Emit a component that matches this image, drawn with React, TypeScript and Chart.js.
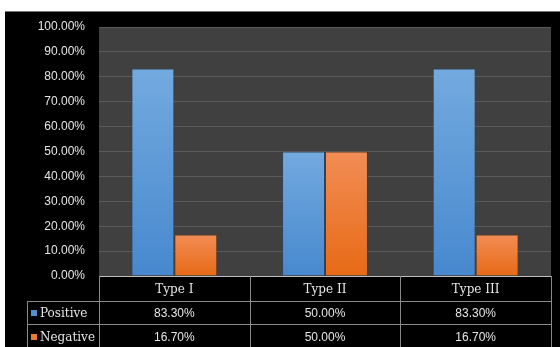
import React, { useEffect, useRef } from "react";
import { Chart, registerables } from "chart.js";

Chart.register(...registerables);

const categories = ["Type I", "Type II", "Type III"];
const seriesNames = ["Positive", "Negative"];
const positiveValues = [83.3, 50.0, 83.3];
const negativeValues = [16.7, 50.0, 16.7];
const tableValues = [positiveValues, negativeValues];
const seriesGradients = [
  ["#73aadf", "#4788ce"],
  ["#f28d55", "#e76a16"],
];
const legendColors = ["#4f8fd2", "#ec7a2e"];

const TEXT = "#e6e6e6";
const LINE = "#8a8a8a";
const SERIF = "'DejaVu Serif', serif";
const SANS = "'Liberation Sans', Arial, sans-serif";

const plotBg = {
  id: "plotBg",
  beforeDraw(chart: any) {
    const { ctx, chartArea } = chart;
    ctx.save();
    ctx.fillStyle = "#404040";
    ctx.fillRect(chartArea.left, chartArea.top, chartArea.right - chartArea.left, chartArea.bottom - chartArea.top);
    ctx.restore();
  },
};

const dataTable = {
  id: "dataTable",
  afterDraw(chart: any) {
    const { ctx, chartArea } = chart;
    const left = chartArea.left;
    const right = chartArea.right;
    const top = chartArea.bottom;
    const colW = (right - left) / categories.length;
    const rowH = [25, 23, 25];
    const rowY = [top, top + rowH[0], top + rowH[0] + rowH[1], top + rowH[0] + rowH[1] + rowH[2]];
    const labelLeft = 22;
    ctx.save();
    ctx.lineWidth = 1;
    const h = (x1: number, x2: number, y: number) => {
      ctx.beginPath();
      ctx.moveTo(x1, Math.round(y) + 0.5);
      ctx.lineTo(x2, Math.round(y) + 0.5);
      ctx.stroke();
    };
    const v = (x: number, y1: number, y2: number) => {
      ctx.beginPath();
      ctx.moveTo(Math.round(x) + 0.5, y1);
      ctx.lineTo(Math.round(x) + 0.5, y2);
      ctx.stroke();
    };
    ctx.strokeStyle = "#bdbdbd";
    h(left, right, rowY[0]);
    ctx.strokeStyle = LINE;
    h(labelLeft, right, rowY[1]);
    h(labelLeft, right, rowY[2]);
    h(labelLeft, right, rowY[3] - 1);
    for (let i = 0; i <= categories.length; i++) {
      v(left + i * colW, rowY[0], rowY[3]);
    }
    v(labelLeft, rowY[1], rowY[3]);

    ctx.fillStyle = TEXT;
    ctx.textAlign = "center";
    ctx.textBaseline = "middle";
    ctx.font = `12px ${SERIF}`;
    categories.forEach((c, i) => {
      ctx.fillText(c, chart.scales.x.getPixelForValue(i), (rowY[0] + rowY[1]) / 2 + 1);
    });
    ctx.font = `12px ${SANS}`;
    tableValues.forEach((vals, r) => {
      vals.forEach((val, i) => {
        ctx.fillText(val.toFixed(2) + "%", chart.scales.x.getPixelForValue(i), (rowY[r + 1] + rowY[r + 2]) / 2 + 1);
      });
    });
    ctx.textAlign = "left";
    ctx.font = `12px ${SERIF}`;
    seriesNames.forEach((n, r) => {
      const cy = (rowY[r + 1] + rowY[r + 2]) / 2;
      ctx.fillStyle = legendColors[r];
      ctx.fillRect(26, Math.round(cy) - 3, 6, 6);
      ctx.fillStyle = TEXT;
      ctx.fillText(n, 35, cy + 1);
    });
    ctx.restore();
  },
};

function gradientFor(seriesIndex: number) {
  return (context: any) => {
    const chart = context.chart;
    const yScale = chart.scales?.y;
    const fallback = seriesGradients[seriesIndex][1];
    if (!yScale || typeof context.raw !== "number") return fallback;
    const y0 = yScale.getPixelForValue(context.raw);
    const y1 = yScale.getPixelForValue(0);
    if (!isFinite(y0) || !isFinite(y1) || y1 - y0 < 1) return fallback;
    const g = chart.ctx.createLinearGradient(0, y0, 0, y1);
    g.addColorStop(0, seriesGradients[seriesIndex][0]);
    g.addColorStop(1, seriesGradients[seriesIndex][1]);
    return g;
  };
}

export default function App() {
  const ref = useRef<HTMLCanvasElement | null>(null);
  useEffect(() => {
    if (!ref.current) return;
    const chart = new Chart(ref.current, {
      type: "bar",
      data: {
        labels: categories,
        datasets: [
          {
            label: seriesNames[0],
            data: positiveValues,
            backgroundColor: gradientFor(0),
            borderColor: "rgba(40,70,110,0.6)",
            borderWidth: 1,
            barPercentage: 1,
            categoryPercentage: 0.57,
          },
          {
            label: seriesNames[1],
            data: negativeValues,
            backgroundColor: gradientFor(1),
            borderColor: "rgba(110,50,10,0.6)",
            borderWidth: 1,
            barPercentage: 1,
            categoryPercentage: 0.57,
          },
        ],
      },
      options: {
        animation: false,
        responsive: false,
        maintainAspectRatio: false,
        devicePixelRatio: 1,
        layout: { padding: { left: 0, top: 15, right: 9, bottom: 71 } },
        plugins: { legend: { display: false }, tooltip: { enabled: false } },
        scales: {
          x: { display: false },
          y: {
            min: 0,
            max: 100,
            border: { display: false },
            grid: { color: "#5a5a5a", drawTicks: false, lineWidth: 1 },
            ticks: {
              stepSize: 10,
              padding: 14,
              color: TEXT,
              font: { family: SANS, size: 12 },
              callback: (v: any) => Number(v).toFixed(2) + "%",
            },
            afterFit: (scale: any) => {
              scale.width = 94;
              scale.paddingTop = 0;
              scale.paddingBottom = 0;
            },
          },
        },
      },
      plugins: [plotBg, dataTable],
    });
    return () => chart.destroy();
  }, []);
  return (
    <div
      style={{
        position: "fixed",
        left: 5,
        top: 11,
        width: 555,
        height: 336,
        background: "#000",
        borderTop: "1px solid #777",
        boxSizing: "border-box",
      }}
    >
      <canvas ref={ref} width={555} height={335} style={{ display: "block", width: 555, height: 335 }} />
    </div>
  );
}
